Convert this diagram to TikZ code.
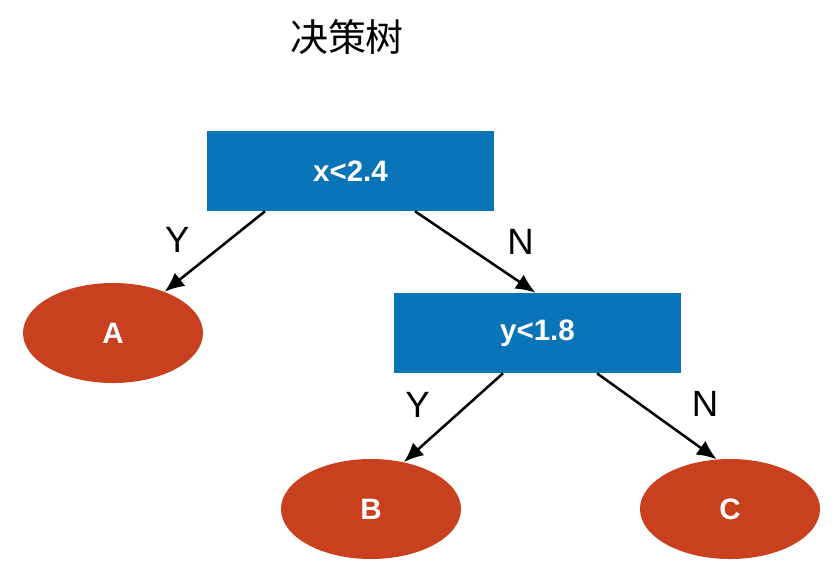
\documentclass[tikz,border=0pt]{standalone}
\usepackage{fontspec}
\setmainfont{Liberation Sans}
\newfontfamily\cjk{Noto Sans CJK SC}
\usetikzlibrary{arrows.meta,shapes.geometric}
\definecolor{splitblue}{RGB}{10,116,184}
\definecolor{leafred}{RGB}{200,64,30}
\tikzset{
  testbox/.style={fill=splitblue,draw=none,minimum width=7.175cm,minimum height=2cm,
    text=white,font=\fontsize{21}{24}\selectfont\bfseries},
  leaf/.style={ellipse,fill=leafred,draw=none,minimum width=4.5cm,minimum height=2.5cm,
    text=white,font=\fontsize{21}{24}\selectfont\bfseries},
  branch/.style={-{Latex[length=14pt,width=12pt]},line width=1.8pt},
  answer/.style={font=\fontsize{26}{30}\selectfont,inner sep=6pt}
}
\begin{document}
\begin{tikzpicture}[x=0.025cm,y=-0.025cm]
  \useasboundingbox (0,0) rectangle (838,568);
  \node[font=\cjk\fontsize{27}{30}\selectfont] (title) at (347,37) {决策树};
  % splits
  \node[testbox] (x24) at (350.5,171) {x<2.4};
  \node[testbox] (y18) at (537.5,333) {y<1.8};
  % leaves
  \node[leaf] (A) at (113,333) {A};
  \node[leaf] (B) at (371,509) {B};
  \node[leaf] (C) at (730,509) {C};
  % branches
  \draw[branch] ([xshift=-85.5*0.025cm]x24.south) -- node[answer,left=11pt,yshift=8pt] {Y} (A);
  \draw[branch] ([xshift=64.5*0.025cm]x24.south) -- node[answer,right=16pt,yshift=7pt] {N} ([xshift=-2*0.025cm]y18.north);
  \draw[branch] ([xshift=-34.5*0.025cm]y18.south) -- node[answer,left=10pt,yshift=9pt] {Y} (B.55);
  \draw[branch] ([xshift=59.5*0.025cm]y18.south) -- node[answer,right=18pt,yshift=9pt] {N} (C.105);
\end{tikzpicture}
\end{document}
